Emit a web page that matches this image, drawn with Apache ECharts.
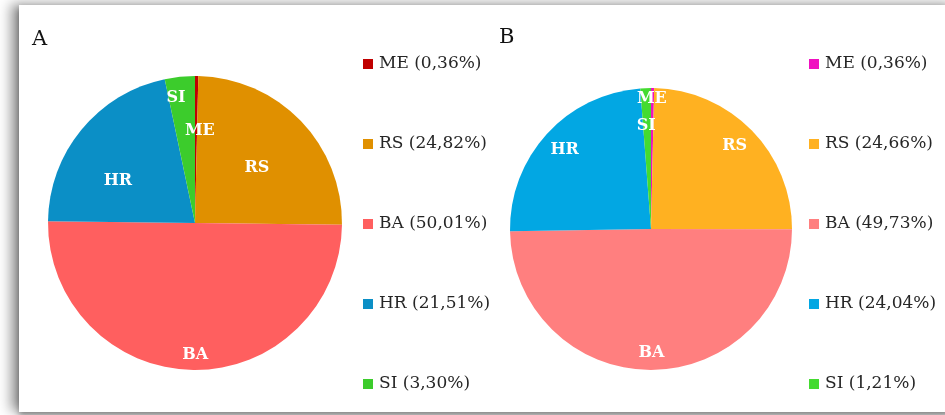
<!DOCTYPE html>
<html>
<head>
<meta charset="utf-8">
<script src="https://cdn.jsdelivr.net/npm/echarts@6/dist/echarts.min.js"></script>
<style>
  html, body { margin: 0; padding: 0; background: #ffffff; overflow: hidden; }
  #card {
    position: absolute; left: 19px; top: 5px; width: 940px; height: 407px;
    background: #ffffff;
    box-shadow: -8px -1px 12px rgba(0,0,0,0.42), 0 4px 6px rgba(0,0,0,0.35);
  }
  #chart { position: absolute; left: 0; top: 0; width: 945px; height: 415px; }
</style>
</head>
<body>
<div id="card"></div>
<div id="chart"></div>
<script>
// Category codes shared by both panels
const categories = ['ME', 'RS', 'BA', 'HR', 'SI'];

// Panel A shares (%)
const valuesA = [0.36, 24.82, 50.01, 21.51, 3.30];
// Panel B shares (%)
const valuesB = [0.36, 24.66, 49.73, 24.04, 1.21];

// Slice colours per panel
const colorsA = ['#C00000', '#E09000', '#FF5F5F', '#0B8FC6', '#3CCC2C'];
const colorsB = ['#F010C0', '#FFB121', '#FF7F7F', '#02A7E3', '#44DB30'];

// Nudges for the slice labels (pixels)
const nudgeA = [[4, -16], [7, -2], [1, 55], [-18, 6], [-11, -49]];
const nudgeB = [[0, -57], [31, -32], [0, 50], [-32, -30], [-2, -30]];

const serif = '"DejaVu Serif", "Liberation Serif", serif';

function fmtPct(v) {
  return v.toFixed(2).replace('.', ',') + '%';
}

function pieSeries(values, colors, nudge, center, radius) {
  return {
    type: 'pie',
    center: center,
    radius: radius,
    startAngle: 90,
    clockwise: true,
    avoidLabelOverlap: false,
    animation: false,
    itemStyle: { borderWidth: 0, borderColor: 'transparent' },
    label: {
      show: true,
      position: 'inside',
      formatter: '{b}',
      color: '#ffffff',
      fontFamily: serif,
      fontWeight: 'bold',
      fontSize: 16
    },
    labelLine: { show: false },
    labelLayout: function (p) {
      const n = nudge[p.dataIndex];
      return { dx: n[0], dy: n[1] };
    },
    emphasis: { disabled: true },
    data: categories.map(function (c, i) {
      return { name: c, value: values[i], itemStyle: { color: colors[i] } };
    })
  };
}

function legendFor(values, colors, left) {
  return {
    orient: 'vertical',
    left: left,
    top: 49,
    itemGap: 60,
    itemWidth: 10,
    itemHeight: 10,
    icon: 'rect',
    selectedMode: false,
    textStyle: { fontFamily: serif, fontSize: 17, color: '#262626', lineHeight: 20, padding: [0, 0, 0, 1] },
    formatter: function (name) {
      return name + ' (' + fmtPct(values[categories.indexOf(name)]) + ')';
    },
    data: categories.map(function (c, i) {
      return { name: c, itemStyle: { color: colors[i] } };
    })
  };
}

const chart = echarts.init(document.getElementById('chart'), null, { renderer: 'canvas' });
chart.setOption({
  backgroundColor: 'transparent',
  animation: false,
  title: [
    { text: 'A', left: 27, top: 24, textStyle: { fontFamily: serif, fontWeight: 'normal', fontSize: 21, color: '#111111' } },
    { text: 'B', left: 494, top: 22, textStyle: { fontFamily: serif, fontWeight: 'normal', fontSize: 21, color: '#111111' } }
  ],
  legend: [
    legendFor(valuesA, colorsA, 358),
    legendFor(valuesB, colorsB, 804)
  ],
  series: [
    pieSeries(valuesA, colorsA, nudgeA, [195, 223], 147),
    pieSeries(valuesB, colorsB, nudgeB, [651, 229], 141)
  ]
});
</script>
</body>
</html>
